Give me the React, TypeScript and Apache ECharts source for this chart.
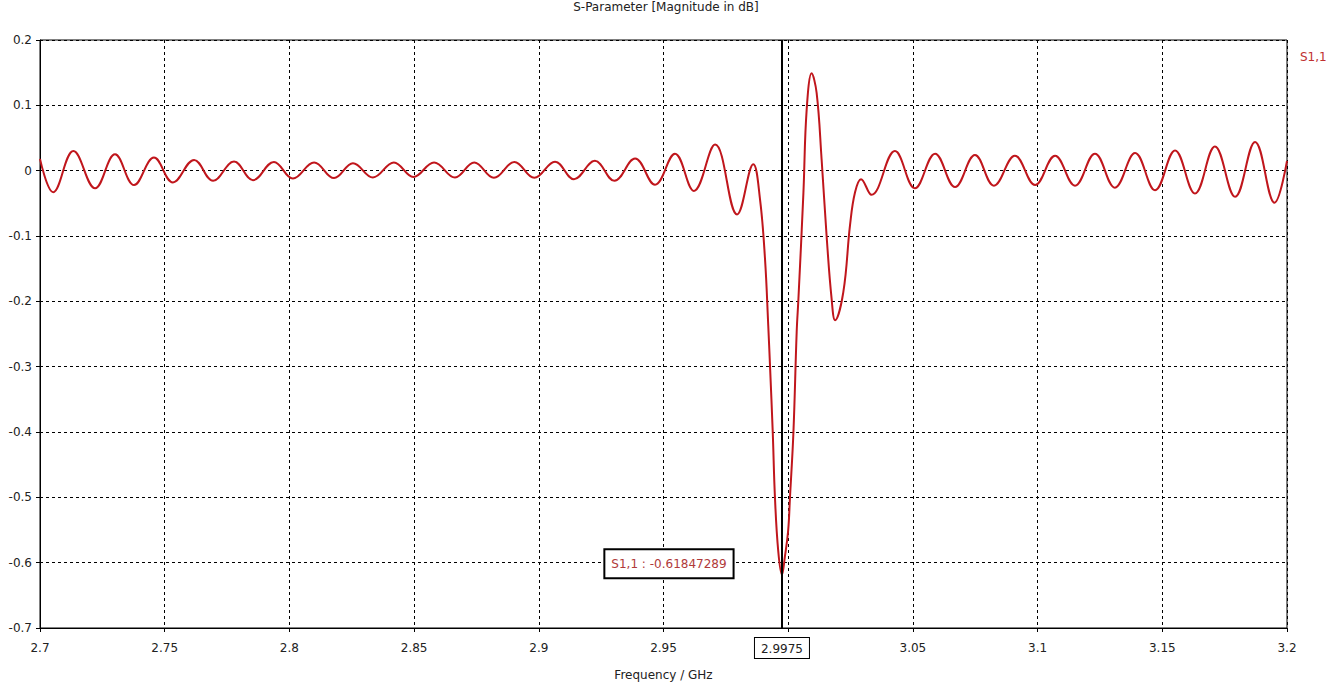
import React, { useEffect, useRef } from 'react';
import * as echarts from 'echarts';

const chartTitle = 'S-Parameter [Magnitude in dB]';
const seriesName = 'S1,1';
const xAxisName = 'Frequency / GHz';
const markerFreq = 2.9975;
const markerValue = -0.61847289;
// tick label hidden behind the marker's frequency box
const hiddenXTick = 3.0;

const freqGHz = [
  2.7, 2.7053, 2.7134, 2.7221, 2.7301, 2.7377, 2.7457, 2.7533, 2.7618, 2.7694,
  2.7778, 2.7854, 2.7938, 2.8014, 2.8099, 2.8179, 2.8255, 2.8335, 2.8419, 2.8497,
  2.858, 2.8664, 2.8741, 2.882, 2.8902, 2.8982, 2.9065, 2.9141, 2.9225, 2.9303,
  2.9386, 2.9466, 2.9546, 2.9622, 2.9707, 2.9795, 2.986, 2.9887, 2.9907, 2.992,
  2.9927, 2.9938, 2.9947, 2.996, 2.9975, 2.9987, 3.0, 3.0007, 3.0021, 3.0034,
  3.0041, 3.0061, 3.0074, 3.0094, 3.0114, 3.0134, 3.0154, 3.0174, 3.0188, 3.0221,
  3.0248, 3.0268, 3.0292, 3.0334, 3.0428, 3.0508, 3.0589, 3.0669, 3.0749, 3.0825,
  3.0909, 3.099, 3.107, 3.115, 3.123, 3.131, 3.1391, 3.1471, 3.1551, 3.1631,
  3.1711, 3.1792, 3.1872, 3.195, 3.2,
];

const s11dB = [
  0.018, -0.033, 0.03, -0.027, 0.025, -0.022, 0.02, -0.018, 0.0165, -0.0155,
  0.014, -0.0145, 0.0134, -0.012, 0.0125, -0.0114, 0.0114, -0.0104, 0.0125, -0.0097,
  0.0125, -0.0104, 0.0125, -0.011, 0.0134, -0.011, 0.0137, -0.013, 0.015, -0.0155,
  0.0185, -0.0216, 0.026, -0.031, 0.04, -0.067, 0.01, -0.044, -0.135, -0.237,
  -0.298, -0.4, -0.501, -0.582, -0.6185, -0.59, -0.55, -0.501, -0.4, -0.247,
  -0.196, -0.034, 0.093, 0.149, 0.119, 0.017, -0.1, -0.196, -0.229, -0.186,
  -0.083, -0.033, -0.013, -0.037, 0.03, -0.027, 0.026, -0.025, 0.024, -0.023,
  0.023, -0.022, 0.023, -0.023, 0.026, -0.026, 0.027, -0.03, 0.031, -0.035,
  0.037, -0.04, 0.044, -0.049, 0.015,
];

const FONT = 'Tahoma, "DejaVu Sans", sans-serif';

export default function App() {
  const ref = useRef<HTMLDivElement>(null);

  useEffect(() => {
    if (!ref.current) return;
    const chart = echarts.init(ref.current, null, { renderer: 'svg' });
    const data = freqGHz.map((f, i) => [f, s11dB[i]]);
    chart.setOption({
      animation: false,
      backgroundColor: '#fff',
      textStyle: { fontFamily: FONT },
      title: {
        text: chartTitle,
        left: 'center',
        top: -4,
        textStyle: { fontSize: 12, fontWeight: 'normal', color: '#222', fontFamily: FONT },
      },
      legend: {
        left: 1290,
        top: 45,
        icon: 'none',
        itemWidth: 0,
        itemGap: 0,
        data: [seriesName],
        textStyle: { color: '#c0302f', fontSize: 12, fontFamily: FONT },
      },
      grid: {
        left: 40,
        right: 45,
        top: 40,
        bottom: 55,
        show: true,
        borderColor: '#000',
        borderWidth: 1,
        containLabel: false,
      },
      xAxis: {
        type: 'value',
        min: 2.7,
        max: 3.2,
        interval: 0.05,
        name: xAxisName,
        nameLocation: 'middle',
        nameGap: 41,
        nameTextStyle: { fontSize: 12, color: '#222', fontFamily: FONT },
        axisLine: { show: true, onZero: false, lineStyle: { color: '#000', width: 1 } },
        axisTick: { show: true, length: 4, lineStyle: { color: '#000' } },
        axisLabel: {
          margin: 14,
          fontSize: 12,
          color: '#222',
          fontFamily: FONT,
          formatter: (v: number) =>
            Math.abs(v - hiddenXTick) < 1e-9 ? '' : String(+v.toFixed(4)),
        },
        splitLine: { show: true, lineStyle: { color: '#000', type: [3, 3], width: 1 } },
      },
      yAxis: {
        type: 'value',
        min: -0.7,
        max: 0.2,
        interval: 0.1,
        axisLine: { show: true, onZero: false, lineStyle: { color: '#000', width: 1 } },
        axisTick: { show: true, length: 4, lineStyle: { color: '#000' } },
        axisLabel: {
          margin: 8,
          fontSize: 12,
          color: '#222',
          fontFamily: FONT,
          formatter: (v: number) => String(+v.toFixed(4)),
        },
        splitLine: { show: true, lineStyle: { color: '#000', type: [3, 3], width: 1 } },
      },
      series: [
        {
          name: seriesName,
          type: 'line',
          data,
          smooth: 0.4,
          showSymbol: false,
          symbol: 'none',
          lineStyle: { color: '#c0161c', width: 2 },
          itemStyle: { color: '#c0161c' },
          markLine: {
            silent: true,
            precision: 6,
            symbol: 'none',
            lineStyle: { color: '#000', width: 2, type: 'solid' },
            label: {
              show: true,
              position: 'start',
              distance: 10,
              formatter: String(markerFreq),
              color: '#222',
              fontSize: 12,
              fontFamily: FONT,
              backgroundColor: '#fff',
              borderColor: '#000',
              borderWidth: 1,
              padding: [5, 6, 3, 6],
            },
            data: [{ xAxis: markerFreq }],
          },
          markPoint: {
            silent: true,
            symbol: 'circle',
            symbolSize: 0,
            data: [
              {
                coord: [markerFreq, markerValue],
                label: {
                  show: true,
                  formatter: `${seriesName} : ${markerValue}`,
                  offset: [-113, -11],
                  color: '#b03a3a',
                  fontSize: 12,
                  fontFamily: FONT,
                  backgroundColor: '#fff',
                  borderColor: '#000',
                  borderWidth: 2,
                  padding: [8, 6, 7, 6],
                },
              },
            ],
          },
        },
      ],
    });
    return () => chart.dispose();
  }, []);

  return (
    <div
      ref={ref}
      style={{ position: 'fixed', left: 0, top: 0, width: 1332, height: 686, background: '#fff' }}
    />
  );
}
